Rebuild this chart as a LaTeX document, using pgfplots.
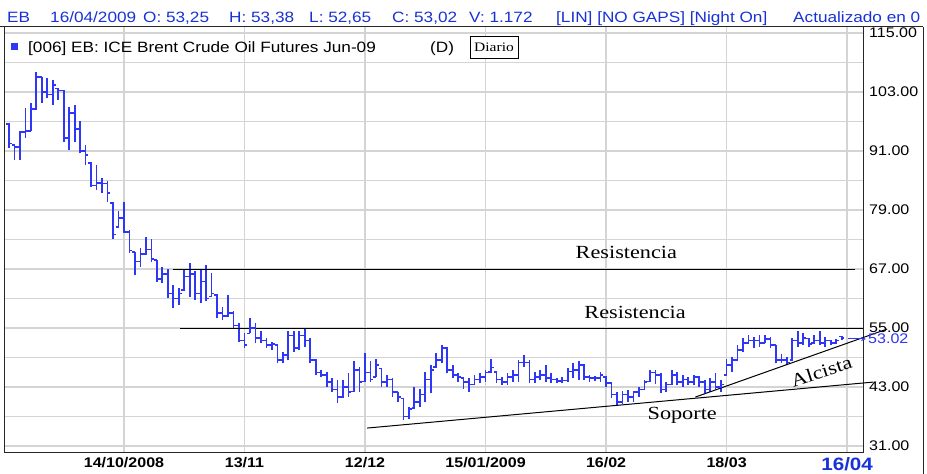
\documentclass[border=0pt]{standalone}
\usepackage{pgfplots}
\pgfplotsset{compat=1.18}
\usepackage{pgfplotstable}
\usetikzlibrary{arrows.meta}
\usepackage{fontspec}
\setmainfont{Liberation Sans}[FakeStretch=1.15]
\newfontfamily\serifz{Liberation Serif}[FakeStretch=1.2]
\definecolor{barblue}{RGB}{45,55,245}
\definecolor{hdrblue}{RGB}{25,50,215}
\definecolor{gridgray}{RGB}{212,212,212}

\pgfdeclareplotmark{otick}{\pgfpathmoveto{\pgfqpoint{-2.8bp}{0pt}}\pgfpathlineto{\pgfqpoint{0.5bp}{0pt}}\pgfusepathqstroke}
\pgfdeclareplotmark{ctick}{\pgfpathmoveto{\pgfqpoint{-0.5bp}{0pt}}\pgfpathlineto{\pgfqpoint{2.8bp}{0pt}}\pgfusepathqstroke}

\pgfplotstableread{
i o h l c
-21 96.5 96.6 91.5 92.5
-20 92.2 92.2 89.2 91.8
-19 91.8 94.9 89.2 94.8
-18 94.8 99.7 93.6 95.0
-17 95.0 100.7 95.0 99.5
-16 99.5 107.1 99.3 106.0
-15 106.0 106.1 100.7 103.0
-14 103.0 105.8 101.7 102.5
-13 102.5 105.4 100.3 104.4
-12 103.7 103.7 101.4 103.3
-11 103.3 103.4 92.9 93.6
-10 93.6 100.0 91.2 98.7
-9 98.7 100.3 92.9 95.5
-8 95.5 97.0 90.5 91.0
-7 91.0 92.2 88.1 90.2
-6 88.5 88.5 83.7 84.0
-5 84.0 88.1 83.1 84.5
-4 84.5 85.4 82.4 84.4
-3 84.4 84.8 80.7 82.4
-2 80.4 80.4 73.2 74.0
-1 75.6 78.7 75.6 77.4
0 77.4 80.7 74.3 74.5
1 74.5 74.9 70.2 70.8
2 70.5 70.5 65.8 68.5
3 68.5 71.2 67.5 70.0
4 70.0 73.6 69.8 71.0
5 71.0 73.2 68.5 69.0
6 68.8 68.8 64.4 65.0
7 65.0 67.5 64.1 66.0
8 66.0 67.1 61.1 62.0
9 62.0 63.7 59.0 61.0
10 61.0 63.1 59.7 62.0
11 62.7 66.8 62.7 65.5
12 65.5 68.2 61.4 66.0
13 66.0 66.5 60.7 62.0
14 62.0 66.8 60.0 64.5
15 64.5 67.8 60.4 61.0
16 61.4 66.1 61.4 62.0
17 61.7 61.7 57.0 58.0
18 58.0 59.3 56.6 57.5
19 57.5 61.7 57.3 58.0
20 58.0 58.5 55.0 55.5
21 55.5 56.0 52.2 52.5
22 52.5 53.9 50.9 51.5
23 53.9 57.0 53.9 55.0
24 55.0 56.0 51.9 53.0
25 53.0 54.3 51.9 52.5
26 52.5 52.9 50.9 51.5
27 51.5 52.2 50.5 51.8
28 51.5 51.5 47.8 48.5
29 48.5 50.2 47.8 49.5
30 49.5 54.3 48.5 53.5
31 53.5 54.3 50.2 51.0
32 51.0 54.3 50.5 53.5
33 53.5 54.9 51.2 52.5
34 52.5 52.9 47.8 48.5
35 48.5 48.8 45.4 46.0
36 46.0 46.5 45.1 45.5
37 45.5 46.1 43.1 44.0
38 44.0 44.8 42.1 42.5
39 42.5 44.4 39.7 41.0
40 41.0 44.4 41.0 43.0
41 43.0 45.8 41.0 42.0
42 42.1 48.2 42.1 46.5
43 46.5 47.1 42.1 44.0
44 44.1 49.9 44.1 46.0
45 46.0 48.2 44.1 44.5
46 45.1 48.8 45.1 47.5
47 46.8 46.8 43.1 44.0
48 44.0 45.5 43.1 44.5
49 44.5 44.8 41.0 42.0
50 42.0 42.1 40.0 41.0
51 40.7 40.7 36.3 37.0
52 37.0 39.0 36.6 38.5
53 38.7 43.1 38.7 40.0
54 40.0 42.7 39.0 41.5
55 41.5 46.1 40.0 44.5
56 44.5 47.5 41.7 46.5
57 47.1 49.9 47.1 48.5
58 48.5 51.5 47.8 51.0
59 51.0 51.2 45.8 46.5
60 46.5 47.5 44.8 45.5
61 45.5 45.8 44.1 45.0
62 44.8 44.8 42.7 44.0
63 44.0 44.8 42.1 43.5
64 43.5 45.5 43.5 44.5
65 44.5 45.8 43.8 45.0
66 45.0 46.5 44.1 46.0
67 46.1 48.8 46.1 47.0
68 46.1 46.1 43.8 44.5
69 44.5 45.1 43.4 44.0
70 44.0 45.8 43.4 45.0
71 45.0 46.5 44.1 45.5
72 45.5 48.5 44.1 48.0
73 48.0 49.5 47.1 48.0
74 48.0 48.5 43.8 44.5
75 44.5 46.1 43.8 45.0
76 45.0 46.5 44.4 45.5
77 45.5 47.5 44.1 44.8
78 44.8 45.8 43.8 44.5
79 44.5 44.8 43.8 44.2
80 44.2 45.0 43.9 44.3
81 44.3 46.8 44.1 46.2
82 46.2 47.8 44.8 46.5
83 46.5 48.2 44.4 47.5
84 47.5 47.5 44.5 45.0
85 45.0 45.4 44.1 44.8
86 44.8 45.3 44.3 44.8
87 44.8 46.1 44.1 45.5
88 45.1 45.1 43.1 43.8
89 43.8 44.1 40.7 41.5
90 41.5 42.1 39.3 40.0
91 40.0 42.2 39.6 41.5
92 41.5 42.4 40.0 41.0
93 41.0 42.3 40.0 42.0
94 42.0 43.1 41.0 42.5
95 42.5 44.4 42.4 44.0
96 44.1 46.5 44.1 46.0
97 46.0 46.5 43.7 45.5
98 45.5 45.8 41.7 42.5
99 42.5 44.1 42.1 43.5
100 43.5 46.5 43.4 45.5
101 45.5 46.0 43.4 44.0
102 44.0 45.4 43.1 44.5
103 44.5 45.0 43.4 44.0
104 44.0 45.5 43.4 45.0
105 45.0 45.0 43.0 44.0
106 44.0 44.4 41.7 42.5
107 42.5 44.8 42.0 44.0
108 44.0 45.8 42.7 43.0
109 43.0 44.4 42.0 43.5
110 45.4 48.8 45.4 47.5
111 47.5 49.2 46.1 48.5
112 48.5 51.5 48.5 50.5
113 50.5 52.9 50.2 52.0
114 52.0 53.6 51.9 52.5
115 52.5 53.2 50.9 52.5
116 52.5 53.6 51.2 52.0
117 52.0 53.6 51.9 52.8
118 52.8 53.2 50.9 51.5
119 51.5 51.5 47.8 48.5
120 48.5 49.8 47.8 48.5
121 48.5 49.2 47.5 48.0
122 48.5 52.9 48.5 52.5
123 52.5 54.3 51.2 52.0
124 52.0 54.0 51.5 53.0
125 52.9 52.9 51.2 51.8
126 51.9 53.6 51.9 52.5
127 52.5 54.3 51.5 52.0
128 52.0 53.2 51.2 52.5
129 52.5 52.6 51.5 52.0
130 52.0 52.8 51.7 52.5
131 53.25 53.38 52.65 53.02
}\ohlc

\begin{document}
\begin{tikzpicture}[x=1bp,y=1bp]
\useasboundingbox (0,0) rectangle (927,474);
\fill[white] (0,0) rectangle (927,474);
\begin{axis}[
  at={(4bp,21bp)}, anchor=south west, scale only axis,
  width=859bp, height=426bp,
  xmin=-21.9, xmax=134.9, ymin=29.6, ymax=116.2,
  clip=false,
  xtick={0,22,44,66,88,110,132},
  xticklabels={14/10/2008,13/11,12/12,15/01/2009,16/02,18/03,{\textcolor{hdrblue}{\fontsize{18}{18}\selectfont\bfseries 16/04}}},
  ytick={31,43,55,67,79,91,103,115},
  minor ytick={37,49,61,73,85,97,109},
  xmajorgrids, ymajorgrids, yminorgrids,
  major grid style={draw=gridgray, line width=1.3bp},
  minor grid style={draw=gridgray, line width=1.3bp},
  major tick length=0pt, minor tick length=0pt,
  axis line style={draw=black!85, line width=1bp},
  yticklabel pos=right,
  /pgf/number format/assume math mode=true,
  yticklabel style={anchor=west, inner sep=0pt, xshift=6bp,
    font=\fontsize{14}{15}\selectfont,
    /pgf/number format/fixed, /pgf/number format/fixed zerofill,
    /pgf/number format/precision=2},
  xticklabel style={anchor=north, inner sep=0pt, yshift=-4.5bp,
    font=\fontsize{14}{15}\selectfont\bfseries},
]
\addplot[draw=none, mark=none, forget plot,
  error bars/.cd, y dir=plus, y explicit, error mark=none,
  error bar style={draw=barblue, line width=1.7bp, solid}]
  table[x=i, y=l, y error expr=\thisrow{h}-\thisrow{l}] {\ohlc};
\addplot[only marks, mark=otick, draw=barblue, mark options={draw=barblue, line width=1.6bp}]
  table[x=i, y=o] {\ohlc};
\addplot[only marks, mark=ctick, draw=barblue, mark options={draw=barblue, line width=1.6bp}]
  table[x=i, y=c] {\ohlc};

\draw[black, line width=1bp] (axis cs:8.9,67) -- (axis cs:133.5,67);
\draw[black, line width=1bp] (axis cs:10.3,55) -- (axis cs:134.9,55);
\draw[black, line width=1bp] (axis cs:44.4,34.67) -- (axis cs:136.8,44.02);
\draw[black, line width=1bp] (axis cs:104.3,40.97) -- (axis cs:139.3,54.8);

\node[font=\serifz\fontsize{18.6}{20}\selectfont] at (axis cs:91.7,70.46) {Resistencia};
\node[font=\serifz\fontsize{18.6}{20}\selectfont] at (axis cs:93.3,58.26) {Resistencia};
\node[font=\serifz\fontsize{18.6}{20}\selectfont] at (axis cs:101.9,37.3) {Soporte};
\node[font=\serifz\fontsize{18.6}{20}\selectfont, rotate=18] at (axis cs:127.3,46.2) {Alcista};
\end{axis}

% frame lines
\draw[black!85, line width=1bp] (0,447) -- (923,447);
\draw[black!85, line width=1bp] (923,0) -- (923,447);

% header
\begin{scope}[every node/.style={anchor=base west, inner sep=0pt, text=hdrblue, font=\fontsize{15}{16}\selectfont}]
\node at (7,451.5) {EB};
\node at (50,451.5) {16/04/2009};
\node at (143,451.5) {O: 53,25};
\node at (229,451.5) {H: 53,38};
\node at (309,451.5) {L: 52,65};
\node at (392,451.5) {C: 53,02};
\node at (469,451.5) {V: 1.172};
\node at (556,451.5) {[LIN] [NO GAPS] [Night On]};
\node at (793,451.5) {Actualizado en 0};
\end{scope}

% legend
\fill[barblue] (11,423.5) rectangle (17.5,430.5);
\node[anchor=base west, inner sep=0pt, font=\fontsize{15}{16}\selectfont] at (28,421.5) {[006] EB: ICE Brent Crude Oil Futures Jun-09};
\node[anchor=base west, inner sep=0pt, font=\fontsize{15}{16}\selectfont] at (430,421.5) {(D)};
\node[draw=black, line width=0.8bp, fill=white, inner sep=0pt, minimum width=48bp, minimum height=22bp,
  font=\serifz\fontsize{13}{14}\selectfont] at (494,427) {Diario};

% last value marker
\draw[barblue, line width=1bp, -{Stealth[length=5bp,width=4bp]}] (848,135) -- (866,135);
\node[anchor=west, inner sep=0pt, text=barblue, font=\fontsize{14}{15}\selectfont] at (868,135) {53.02};
\end{tikzpicture}
\end{document}
